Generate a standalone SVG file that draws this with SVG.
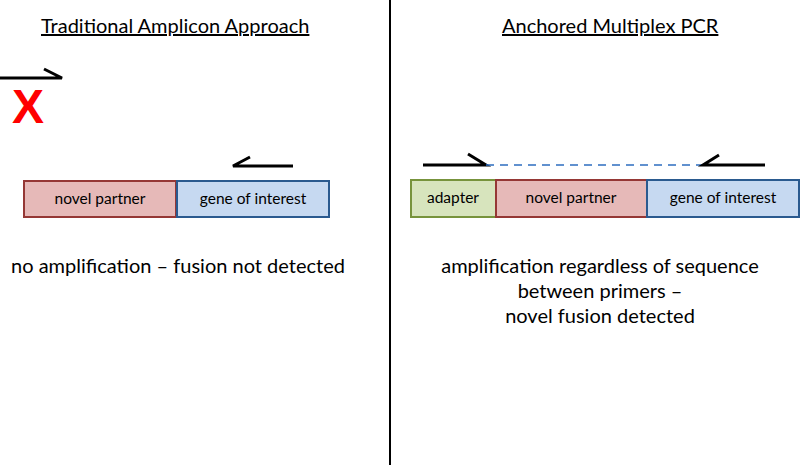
<svg xmlns="http://www.w3.org/2000/svg" width="800" height="465" viewBox="0 0 800 465">
<style>
text{font-family:Lato,"Open Sans","Liberation Sans",sans-serif;fill:#000}
.title{font-size:20px;text-decoration:underline}
.lbl{font-size:15.5px;text-anchor:middle}
.cap{font-size:20px;text-anchor:middle}
.primer{stroke:#000;stroke-width:3;fill:none;stroke-linecap:butt}
.pink{fill:#E6B9B8;stroke:#953735;stroke-width:2}
.blue{fill:#C6D9F1;stroke:#2A5A8F;stroke-width:2}
.green{fill:#D7E4BD;stroke:#77933C;stroke-width:2}
</style>
<rect width="800" height="465" fill="#fff"/>
<line x1="390" y1="0" x2="390" y2="465" stroke="#000" stroke-width="2"/>
<text class="title" x="41" y="33">Traditional Amplicon Approach</text>
<text class="title" x="502" y="33">Anchored Multiplex PCR</text>
<g id="connectors">
<path class="primer" d="M0 78H62L44 69"/>
<path class="primer" d="M293 166H233L250 157"/>
<path class="primer" d="M423 165H486L468 154"/>
<line x1="486" y1="165" x2="703" y2="165" stroke="#2E6EC0" stroke-width="1.5" stroke-dasharray="8,6"/>
<path class="primer" d="M765 165H703L719 155"/>
</g>
<text x="12" y="123" font-weight="bold" font-size="48" style="fill:#FF0000;font-family:'Liberation Sans',Arial,sans-serif">X</text>
<g id="left-novel"><rect class="pink" x="24" y="181" width="152" height="36"/><text class="lbl" x="100" y="204">novel partner</text></g>
<g id="left-gene"><rect class="blue" x="177" y="181" width="152" height="36"/><text class="lbl" x="253" y="204">gene of interest</text></g>
<text class="cap" x="178" y="273">no amplification – fusion not detected</text>
<g id="right-adapter"><rect class="green" x="411" y="180" width="85" height="37"/><text class="lbl" x="453" y="203">adapter</text></g>
<g id="right-novel"><rect class="pink" x="496" y="180" width="151" height="37"/><text class="lbl" x="571" y="203">novel partner</text></g>
<g id="right-gene"><rect class="blue" x="647" y="180" width="152" height="37"/><text class="lbl" x="723" y="203">gene of interest</text></g>
<text class="cap" x="600" y="273">amplification regardless of sequence</text>
<text class="cap" x="600" y="298">between primers –</text>
<text class="cap" x="600" y="323">novel fusion detected</text>
</svg>
